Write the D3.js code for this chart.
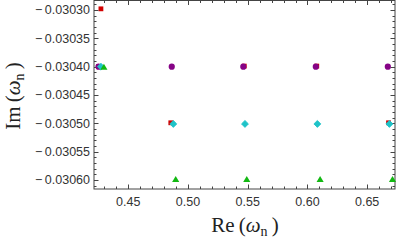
<!DOCTYPE html>
<html>
<head>
<meta charset="utf-8">
<script src="https://cdnjs.cloudflare.com/ajax/libs/d3/7.8.5/d3.min.js"></script>
<style>
  body { margin: 0; background: #fff; }
  .tick-label { font-family: "Liberation Sans", Arial, sans-serif; font-size: 12.5px; fill: #333; }
  .axis-title { font-family: "Liberation Serif", "Times New Roman", serif; font-size: 21px; fill: #222; }
</style>
</head>
<body>
<div id="chart"></div>
<script>
// modes: [Re, Im]
const redSquares = [[0.4271, -0.030298], [0.4250, -0.030400], [0.5471, -0.030399], [0.6078, -0.030399], [0.4856, -0.030499], [0.6679, -0.030499]];
const purpleCircles = [[0.4251, -0.030400], [0.4864, -0.030400], [0.5463, -0.030400], [0.6070, -0.030400], [0.6673, -0.030400]];
const cyanDiamonds = [[0.4271, -0.030400], [0.4877, -0.030501], [0.5477, -0.030501], [0.6083, -0.030501], [0.6686, -0.030501]];
const greenTriangles = [[0.4296, -0.030402], [0.4897, -0.030600], [0.5492, -0.030600], [0.6106, -0.030600], [0.6712, -0.030600]];

const xTicks = [0.45, 0.50, 0.55, 0.60, 0.65];
const yTicks = [-0.03030, -0.03035, -0.03040, -0.03045, -0.03050, -0.03055, -0.03060];

var W = 399, H = 242;
var frame = {left: 94, right: 395, top: 0.5, bottom: 189};

var xScale = d3.scaleLinear()
  .domain([0.4213, 0.6733])
  .range([frame.left, frame.right]);

var yScale = d3.scaleLinear()
  .domain([-0.0302833, -0.0306158])
  .range([frame.top, frame.bottom]);

var svg = d3.select('#chart')
  .append('svg')
  .attr('width', W)
  .attr('height', H);

// frame
svg.append('rect')
  .attr('x', frame.left)
  .attr('y', frame.top)
  .attr('width', frame.right - frame.left)
  .attr('height', frame.bottom - frame.top)
  .attr('fill', 'none')
  .attr('stroke', '#444')
  .attr('stroke-width', 1);

// minor ticks
var xMinor = d3.range(0.43, 0.6701, 0.01);
var yMinor = d3.range(-0.03029, -0.030611, -0.00001);

var ticks = svg.append('g').attr('stroke', '#444').attr('stroke-width', 1);

xMinor.forEach(v => {
  var major = xTicks.some(t => Math.abs(t - v) < 1e-6);
  var len = major ? 4.5 : 2.5;
  var x = Math.round(xScale(v)) + 0.5;
  ticks.append('line').attr('x1', x).attr('x2', x).attr('y1', frame.bottom).attr('y2', frame.bottom - len);
  ticks.append('line').attr('x1', x).attr('x2', x).attr('y1', frame.top).attr('y2', frame.top + len);
});

yMinor.forEach(v => {
  var major = yTicks.some(t => Math.abs(t - v) < 1e-9);
  var len = major ? 4.5 : 2.5;
  var y = Math.round(yScale(v)) + 0.5;
  ticks.append('line').attr('x1', frame.left).attr('x2', frame.left + len).attr('y1', y).attr('y2', y);
  ticks.append('line').attr('x1', frame.right).attr('x2', frame.right - len).attr('y1', y).attr('y2', y);
});

// tick labels
svg.append('g').selectAll('text')
  .data(xTicks)
  .enter().append('text')
  .attr('class', 'tick-label')
  .attr('x', d => xScale(d))
  .attr('y', 206)
  .attr('text-anchor', 'middle')
  .text(d => d.toFixed(2));

svg.append('g').selectAll('text')
  .data(yTicks)
  .enter().append('text')
  .attr('class', 'tick-label')
  .attr('x', 90)
  .attr('y', d => yScale(d) + 4.3)
  .attr('text-anchor', 'end')
  .text(d => '\u2212\u2009' + Math.abs(d).toFixed(5));

// axis titles
var xt = svg.append('text')
  .attr('class', 'axis-title')
  .attr('x', 245)
  .attr('y', 232)
  .attr('text-anchor', 'middle');
xt.append('tspan').text('Re\u2009(');
xt.append('tspan').attr('font-style', 'italic').text('\u03C9');
xt.append('tspan').attr('font-size', '14px').attr('dy', 4).text('n');
xt.append('tspan').attr('dy', -4).text('\u2009)');

var yt = svg.append('text')
  .attr('class', 'axis-title')
  .attr('transform', 'translate(20,96) rotate(-90)')
  .attr('text-anchor', 'middle');
yt.append('tspan').text('Im\u2009(');
yt.append('tspan').attr('font-style', 'italic').text('\u03C9');
yt.append('tspan').attr('font-size', '14px').attr('dy', 4).text('n');
yt.append('tspan').attr('dy', -4).text('\u2009)');

// markers
var marks = svg.append('g');

marks.selectAll('rect.red')
  .data(redSquares)
  .enter().append('rect')
  .attr('class', 'red')
  .attr('x', d => xScale(d[0]) - 2.4)
  .attr('y', d => yScale(d[1]) - 2.4)
  .attr('width', 4.8)
  .attr('height', 4.8)
  .attr('fill', '#d20000');

marks.selectAll('circle.purple')
  .data(purpleCircles)
  .enter().append('circle')
  .attr('class', 'purple')
  .attr('cx', d => xScale(d[0]))
  .attr('cy', d => yScale(d[1]))
  .attr('r', 3.1)
  .attr('fill', '#860386');

// diamond = square turned 45 degrees
var diamond = d3.symbol().type(d3.symbolSquare).size(24);
marks.selectAll('path.cyan')
  .data(cyanDiamonds)
  .enter().append('path')
  .attr('class', 'cyan')
  .attr('d', diamond)
  .attr('transform', d => `translate(${xScale(d[0])},${yScale(d[1])}) rotate(45)`)
  .attr('fill', '#1ec3c8')
  .attr('stroke', '#1ec3c8')
  .attr('stroke-width', 0.8)
  .attr('stroke-linejoin', 'round');

var triangle = d3.symbol().type(d3.symbolTriangle).size(22);
marks.selectAll('path.green')
  .data(greenTriangles)
  .enter().append('path')
  .attr('class', 'green')
  .attr('d', triangle)
  .attr('transform', d => `translate(${xScale(d[0])},${yScale(d[1])})`)
  .attr('fill', '#12b812');
</script>
</body>
</html>
